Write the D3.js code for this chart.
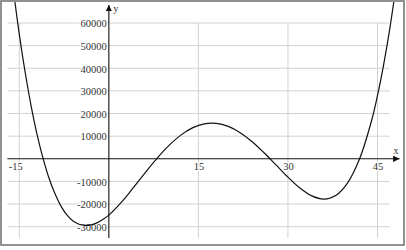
<!DOCTYPE html>
<html>
<head>
<meta charset="utf-8">
<script src="https://cdn.jsdelivr.net/npm/d3@7"></script>
<style>
  body { margin: 0; background: #fff; }
  svg { display: block; }
  .tick text { font-family: "Liberation Serif", serif; font-size: 10.5px; fill: #333;
    paint-order: stroke; stroke: #fff; stroke-width: 2px; }
</style>
</head>
<body>
<div id="chart"></div>
<script>
    const xTicks = [-15, 15, 30, 45]
    const yTicks = [-30000, -20000, -10000, 10000, 20000, 30000, 40000, 50000, 60000]

    // points
    const curveX = [-16, -15, -14, -13, -12, -11, -10, -9, -8, -7, -6, -5, -4, -3, -2, -1, 0,
      2, 4, 6, 8, 10, 12, 14, 16, 18, 20, 22, 24, 26, 28, 30, 32, 34, 36, 38, 40, 42, 44, 45, 46, 47, 48]
    const curveY = [74800, 55000, 37900, 23100, 10500, 0, -8700, -15600, -21000, -24900, -27500, -28900, -29400, -29200, -28300, -26800, -24900,
      -19500, -13100, -6400, 0, 5700, 10350, 13650, 15450, 15650, 14300, 11550, 7550, 2650, -2700, -8100, -12900, -16400, -17800, -16200, -10600, 0, 16800, 28000, 41200, 56500, 74300]

    const width = 406
    const height = 250

    const x = d3.scaleLinear().domain([-15, 45]).range([19.3, 377.5])
    const y = d3.scaleLinear().domain([-30000, 60000]).range([226.7, 23])

    const svg = d3.select('#chart').append('svg')
      .attr('width', width)
      .attr('height', height)

    const defs = svg.append('defs')
    defs.append('clipPath').attr('id', 'frame-clip')
      .append('rect').attr('x', 2).attr('y', 2).attr('width', 402).attr('height', 242)
    defs.append('marker')
      .attr('id', 'arrow')
      .attr('viewBox', '0 0 10 10')
      .attr('refX', 10).attr('refY', 5)
      .attr('markerWidth', 6.5).attr('markerHeight', 6.5)
      .attr('markerUnits', 'userSpaceOnUse')
      .attr('orient', 'auto')
      .append('path').attr('d', 'M0,0 L10,5 L0,10 Z').attr('fill', '#111')

    const gx0 = -17, gx1 = 47, gy0 = -35000, gy1 = 60000

    // grid
    svg.append('g').selectAll('line.h')
      .data(yTicks).enter().append('line')
      .attr('x1', x(gx0)).attr('x2', x(gx1))
      .attr('y1', d => y(d)).attr('y2', d => y(d))
      .attr('stroke', '#d2d2d2').attr('stroke-width', 1)
    svg.append('g').selectAll('line.v')
      .data(xTicks).enter().append('line')
      .attr('x1', d => x(d)).attr('x2', d => x(d))
      .attr('y1', y(gy0)).attr('y2', y(gy1))
      .attr('stroke', '#d2d2d2').attr('stroke-width', 1)

    // tick labels through d3 axes
    const plain = d => String(d)
    const yAxis = d3.axisLeft(y).tickValues(yTicks).tickFormat(plain).tickSize(0).tickPadding(2)
    const xAxis = d3.axisBottom(x).tickValues(xTicks).tickFormat(plain).tickSize(0).tickPadding(4)

    const gy = svg.append('g').attr('transform', `translate(${x(0)},0)`).call(yAxis)
    gy.select('.domain').remove()
    gy.selectAll('text').attr('dy', '0.36em')

    const gxa = svg.append('g').attr('transform', `translate(0,${y(0)})`).call(xAxis)
    gxa.select('.domain').remove()
    gxa.selectAll('text').attr('dx', d => d < 0 ? -4 : 0).attr('dy', '0.7em')

    // axis lines with arrows
    svg.append('line')
      .attr('x1', x(gx0)).attr('x2', x(48.7))
      .attr('y1', y(0)).attr('y2', y(0))
      .attr('stroke', '#111').attr('stroke-width', 1.1)
      .attr('marker-end', 'url(#arrow)')
    svg.append('line')
      .attr('x1', x(0)).attr('x2', x(0))
      .attr('y1', y(gy0)).attr('y2', y(68000))
      .attr('stroke', '#111').attr('stroke-width', 1.1)
      .attr('marker-end', 'url(#arrow)')

    svg.append('text')
      .attr('x', x(48.1)).attr('y', y(0) - 5)
      .attr('text-anchor', 'middle')
      .style('font-family', '"Liberation Serif", serif').style('font-size', '10px').style('fill', '#333')
      .text('x')
    svg.append('text')
      .attr('x', x(0) + 7).attr('y', y(66000) + 3)
      .attr('text-anchor', 'middle')
      .style('font-family', '"Liberation Serif", serif').style('font-size', '10.5px').style('fill', '#333')
      .text('y')

    // the curve
    const line = d3.line()
      .x((d, i) => x(curveX[i]))
      .y(d => y(d))
      .curve(d3.curveCatmullRom)

    svg.append('path')
      .datum(curveY)
      .attr('clip-path', 'url(#frame-clip)')
      .attr('d', line)
      .attr('fill', 'none')
      .attr('stroke', '#111')
      .attr('stroke-width', 1.2)

    // frame
    svg.append('rect')
      .attr('x', 1).attr('y', 1).attr('width', 403).attr('height', 244)
      .attr('fill', 'none').attr('stroke', '#777').attr('stroke-width', 1.6)
</script>
</body>
</html>
